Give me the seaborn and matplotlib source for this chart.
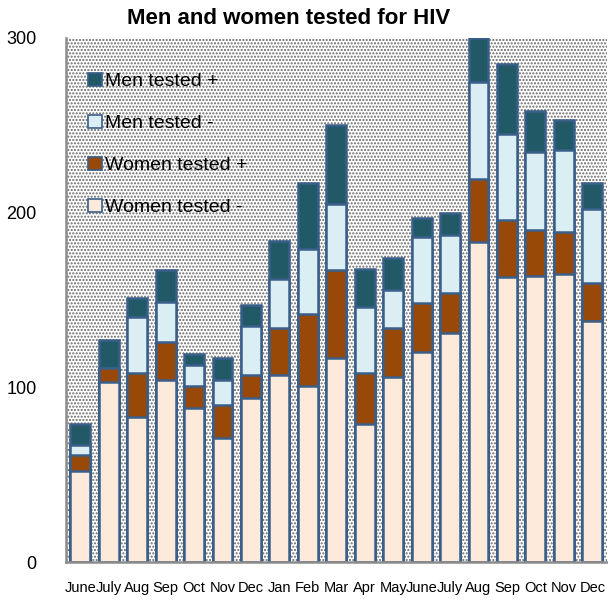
import matplotlib
matplotlib.use("Agg")
import matplotlib.pyplot as plt
from matplotlib.patches import Patch, Rectangle
import numpy as np
import pandas as pd
import seaborn as sns

# 數據：每月檢測人數
months = ["June", "July", "Aug", "Sep", "Oct", "Nov", "Dec", "Jan", "Feb", "Mar",
          "Apr", "May", "June", "July", "Aug", "Sep", "Oct", "Nov", "Dec"]
women_neg = [52, 103, 83, 104, 88, 71, 94, 107, 101, 117, 79, 106, 120, 131, 183, 163, 164, 165, 138]
women_pos = [9, 8, 25, 22, 13, 19, 13, 27, 41, 50, 29, 28, 28, 23, 36, 33, 26, 24, 22]
men_neg = [6, 0, 32, 23, 12, 14, 28, 28, 37, 38, 38, 22, 38, 33, 56, 49, 45, 47, 42]
men_pos = [12, 16, 11, 18, 6, 13, 12, 22, 38, 45, 22, 18, 11, 13, 25, 40, 23, 17, 15]

series_names = ["Women tested -", "Women tested +", "Men tested -", "Men tested +"]
series_colors = ["#FDEADA", "#984807", "#DAEEF3", "#215967"]
edge_color = "#3A5F8B"

df = pd.DataFrame({
    "idx": np.arange(len(months)),
    "Women tested -": women_neg,
    "Women tested +": women_pos,
    "Men tested -": men_neg,
    "Men tested +": men_pos,
})
cum = df[series_names].cumsum(axis=1)

sns.set_style("white")
plt.rcParams["font.family"] = ["Liberation Sans Narrow", "Liberation Sans", "DejaVu Sans"]
plt.rcParams["hatch.linewidth"] = 1.0
plt.rcParams["text.color"] = "black"
plt.rcParams["xtick.labelcolor"] = "black"
plt.rcParams["ytick.labelcolor"] = "black"

fig = plt.figure(figsize=(6.08, 6.06), dpi=100)
ax = fig.add_axes([0.1086, 0.0726, 0.889, 0.8647])

# 點狀背景
ax.add_patch(Rectangle((0, 0), 1, 1, transform=ax.transAxes, facecolor="white",
                       edgecolor="#666666", hatch=".....", lw=0, zorder=0))

# 疊加繪製累計長條（由高到低）
for name, color in zip(series_names[::-1], series_colors[::-1]):
    sns.barplot(x=df["idx"], y=cum[name], color=color, edgecolor=edge_color,
                linewidth=1.8, width=0.7, saturation=1, ax=ax, zorder=2)

ax.set_xlim(-0.5, len(months) - 0.5)
ax.set_ylim(0, 300)
ax.set_yticks([0, 100, 200, 300])
ax.set_xticks(np.arange(len(months)))
ax.set_xticklabels(months, fontsize=10.5)
ax.set_xticks(np.arange(-0.5, len(months), 1), minor=True)
ax.tick_params(axis="x", which="major", length=0, pad=14)
ax.tick_params(axis="x", which="minor", length=5, width=1.5, color="#8c8c8c", direction="out")
ax.tick_params(axis="y", length=7, width=1.5, color="#8c8c8c", direction="out",
               labelsize=13, pad=14)
ax.set_xlabel("")
ax.set_ylabel("")

for side in ["top", "right"]:
    ax.spines[side].set_visible(False)
for side in ["left", "bottom"]:
    ax.spines[side].set_color("#8c8c8c")
    ax.spines[side].set_linewidth(1.8)
    ax.spines[side].set_zorder(3)

fig.text(0.474, 0.970, "Men and women tested for HIV", fontsize=16,
         fontweight="bold", ha="center", va="center", color="black")

handles = [Patch(facecolor=c, edgecolor=edge_color, linewidth=1.2, label=n)
           for n, c in zip(series_names[::-1], series_colors[::-1])]
ax.legend(handles=handles, loc="upper left", bbox_to_anchor=(0.009, 0.967), frameon=False,
          fontsize=14, handlelength=0.7, handleheight=0.7, handletextpad=0.15,
          labelspacing=1.25, labelcolor="black")

plt.savefig("out.png", dpi=100)
plt.close()
